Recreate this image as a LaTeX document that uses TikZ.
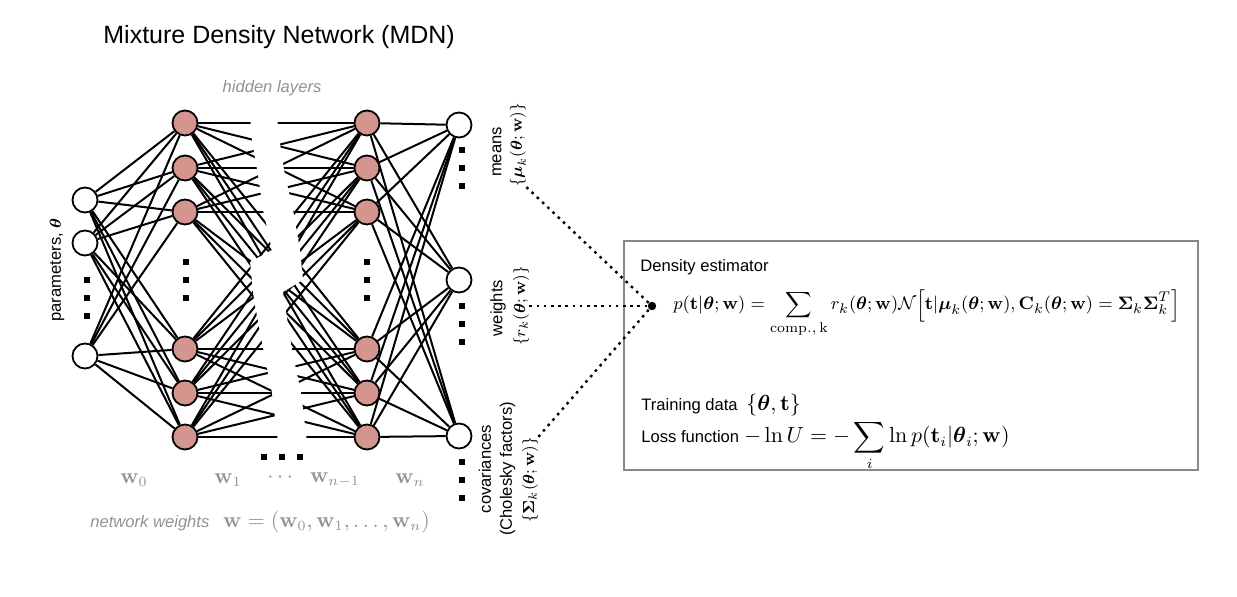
\documentclass[tikz,border=0pt]{standalone}
\usepackage[no-math]{fontspec}
\setsansfont{Liberation Sans}
\usepackage{amsmath}
\usetikzlibrary{positioning, calc}
\definecolor{unitFill}{HTML}{D4958F}
\definecolor{textMuted}{HTML}{929292}
\definecolor{frameGray}{HTML}{888888}
\newcommand{\vtheta}{\boldsymbol{\theta}}
\newcommand{\vw}{\mathbf{w}}
\newcommand{\vt}{\mathbf{t}}

\begin{document}
\begin{tikzpicture}[x=0.5pt, y=-0.5pt,
    unit/.style={circle, draw=black, line width=0.9pt, fill=#1,
                 minimum size=12.5pt, inner sep=0pt},
    unit/.default=white,
    link/.style={line width=1pt, black},
    lbl/.style={font=\sffamily\fontsize{8.3}{10.5}\selectfont, align=center, inner sep=0pt},
    lblmath/.style={font=\fontsize{8.4}{10}\selectfont, inner sep=0pt},
    hint/.style={lbl, text=textMuted, font=\sffamily\itshape\fontsize{8.3}{10}\selectfont},
    muted/.style={font=\fontsize{10.5}{12}\selectfont, text=textMuted, inner sep=0pt},
    eqn/.style={font=\fontsize{10.5}{12}\selectfont, inner sep=0pt},
    dotline/.style={line width=1.2pt, dash pattern=on 1.3pt off 2.3pt}
  ]
    \useasboundingbox (0,0) rectangle (1237,597);

    % layers
    \foreach \n/\y in {1/200, 2/243, 3/356}
      \node[unit] (in\n) at (85,\y) {};
    \foreach \n/\y in {1/123, 2/168, 3/212, 4/349, 5/393, 6/437} {
      \node[unit=unitFill] (ha\n) at (185,\y) {};
      \node[unit=unitFill] (hb\n) at (367,\y) {};
    }
    \foreach \n/\y in {1/125, 2/280, 3/436}
      \node[unit] (out\n) at (459,\y) {};

    % connections
    \foreach \i in {1,2,3}
      \foreach \j in {1,...,6}
        \draw[link] (in\i) -- (ha\j);
    \foreach \i in {1,...,6}
      \foreach \j in {1,...,6}
        \draw[link] (ha\i) -- (hb\j);
    \foreach \i in {1,...,6}
      \foreach \j in {1,2,3}
        \draw[link] (hb\i) -- (out\j);

    % break between the hidden layers
    \fill[white] (249,105) -- (252,140) -- (258,175) -- (263,210) -- (272,250)
      -- (250,262) -- (254,300) -- (263,348) -- (272,393) -- (279,450)
      -- (308,450) -- (301,393) -- (292,350) -- (283,292) -- (303,280)
      -- (300,250) -- (294,215) -- (284,170) -- (278,130) -- (277,105) -- cycle;

    % dots
    \foreach \x/\y in {87/280, 87/298, 87/316, 186/262, 186/280, 186/298,
                       367/262, 367/280, 367/298, 462/150, 462/168, 462/186,
                       462/306, 462/324, 462/342, 462/462, 462/480, 462/498,
                       264/457, 282/457, 300/457}
      \fill (\x-2.6,\y-2.6) rectangle (\x+2.6,\y+2.6);

    % labels
    \node[font=\sffamily\fontsize{12.5}{15}\selectfont, anchor=west, inner sep=0pt]
      (title) at (103,37) {Mixture Density Network (MDN)};
    \node[hint] (hidden) at (272,88) {hidden layers};
    \node[lbl, rotate=90] (params) at (57,270) {parameters, $\vtheta$};

    \node[muted] (w0) at (134,480) {$\vw_0$};
    \node[muted] (w1) at (228,480) {$\vw_1$};
    \node[muted] (wdots) at (282,478) {$\cdots$};
    \node[muted] (wn1) at (335,480) {$\vw_{n-1}$};
    \node[muted] (wn) at (410,480) {$\vw_n$};
    \node[hint, anchor=west] (netw) at (90,523) {network weights};
    \node[muted, base right=6.5pt of netw] (wvec) {$\vw=(\vw_0,\vw_1,\ldots,\vw_n)$};

    \node[lbl, rotate=90] (meansTxt) at (497,152) {means};
    \node[lblmath, rotate=90] (means) at (518,145) {$\{\boldsymbol{\mu}_k(\vtheta;\vw)\}$};
    \node[lbl, rotate=90] (weightsTxt) at (498,308) {weights};
    \node[lblmath, rotate=90] (weights) at (521,306) {$\{r_k(\vtheta;\vw)\}$};
    \node[lbl, rotate=90] (covarTxt) at (497,469) {covariances\\(Cholesky factors)};
    \node[lblmath, rotate=90] (covar) at (530,480) {$\{\boldsymbol{\Sigma}_k(\vtheta;\vw)\}$};

    % density estimator
    \node[draw=frameGray, line width=1pt, minimum width=287pt, minimum height=114.5pt,
          inner sep=0pt] (box) at (911,355.5) {};
    \node[circle, fill=black, inner sep=0pt, minimum size=4.2pt] (est) at (652,306) {};
    \draw[dotline] (means.south west) -- (est);
    \draw[dotline] (weights.south) -- (est);
    \draw[dotline] (covar.south east) -- (est);

    \node[lbl, anchor=west] (dens) at (640,267) {Density estimator};
    \node[eqn, font=\fontsize{9.5}{12}\selectfont, anchor=base west] (mdn) at (673,310)
      {$p(\vt|\vtheta;\vw)=\displaystyle\sum_{\mathrm{comp.,\,k}} r_k(\vtheta;\vw)\mathcal{N}
        \Big[\vt|\boldsymbol{\mu}_k(\vtheta;\vw),\mathbf{C}_k(\vtheta;\vw)
        =\boldsymbol{\Sigma}_k\boldsymbol{\Sigma}_k^T\Big]$};
    \node[lbl, anchor=base west] (train) at (641,411) {Training data};
    \node[eqn, base right=4pt of train] (trainMath) {$\{\vtheta,\vt\}$};
    \node[lbl, anchor=base west] (loss) at (641,443) {Loss function};
    \node[eqn, base right=2pt of loss] (lossMath)
      {$-\ln U=-\displaystyle\sum_i\ln p(\vt_i|\vtheta_i;\vw)$};
  \end{tikzpicture}
\end{document}
